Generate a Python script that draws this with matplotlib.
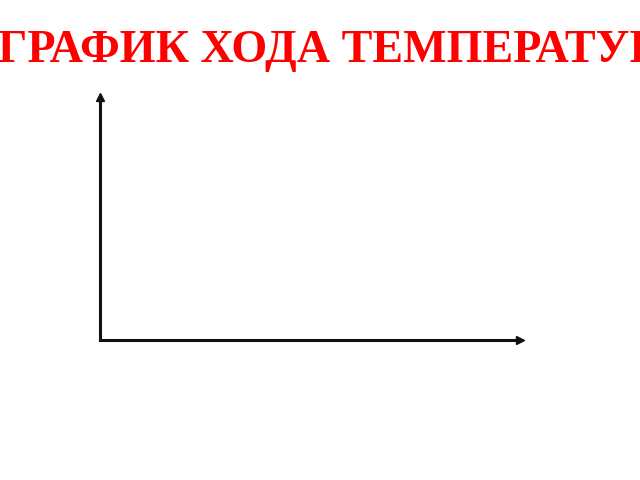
import matplotlib.pyplot as plt

# the chart in the picture is an empty template: no values are plotted yet
title = "ГРАФИК ХОДА ТЕМПЕРАТУРЫ"
hours = []
temperature = []

fig = plt.figure(figsize=(6.4, 4.8), dpi=100)
# title is wider than the figure and sits right of centre, so its ends are cut off
# (the reference slide crops it the same way)
fig.text(350 / 640, 1 - 62 / 480, title, ha="center", va="baseline", color="red",
         fontsize=33.2, fontweight="bold", family=["Liberation Serif", "DejaVu Serif"])

# axes box in figure fractions: left 100px, bottom 340px, right 520px, top 97px
ax = fig.add_axes([100 / 640, (480 - 340) / 480, 420 / 640, 243 / 480])
ax.plot(hours, temperature, color="black")
for side in ("top", "right"):
    ax.spines[side].set_visible(False)
for side in ("left", "bottom"):
    ax.spines[side].set_linewidth(2.2)
    ax.spines[side].set_color("#111111")
ax.set_xticks([])
ax.set_yticks([])
ax.patch.set_alpha(0)

# arrow heads at the ends of both axes
ax.plot(0, 1, marker="^", color="#111111", markersize=5.5, transform=ax.transAxes, clip_on=False)
ax.plot(1, 0, marker=">", color="#111111", markersize=5.5, transform=ax.transAxes, clip_on=False)

fig.savefig("out.png", dpi=100)
